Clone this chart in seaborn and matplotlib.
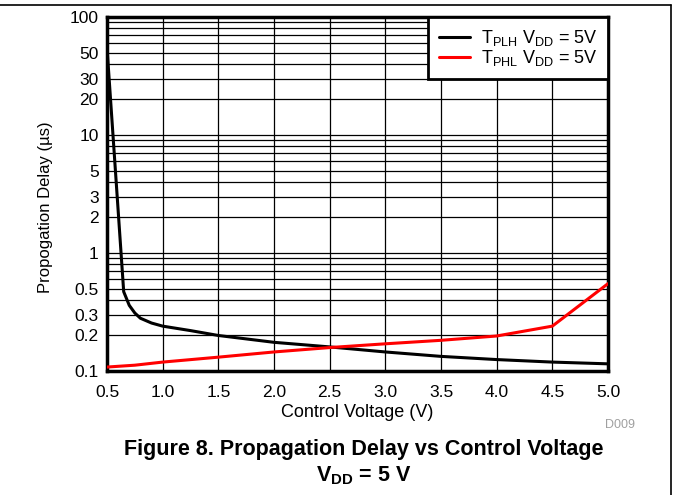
import numpy as np
import pandas as pd
import matplotlib
matplotlib.use("Agg")
import matplotlib.pyplot as plt
from matplotlib.ticker import FixedLocator, FixedFormatter, LogLocator, NullFormatter
from matplotlib.lines import Line2D
import seaborn as sns

# values
plh_v = [0.5, 0.65, 0.7, 0.75, 0.8, 0.9, 1.0, 1.25, 1.5, 2.0, 2.5, 3.0, 3.5, 4.0, 4.5, 5.0]
plh_t = [55, 0.47, 0.36, 0.31, 0.28, 0.255, 0.24, 0.22, 0.20, 0.175, 0.16, 0.145, 0.133, 0.125, 0.119, 0.115]
phl_v = [0.5, 0.75, 1.0, 1.5, 2.0, 2.5, 3.0, 3.5, 4.0, 4.5, 5.0]
phl_t = [0.108, 0.112, 0.119, 0.131, 0.145, 0.158, 0.17, 0.182, 0.198, 0.24, 0.55]

y_ticks = [0.1, 0.2, 0.3, 0.5, 1, 2, 3, 5, 10, 20, 30, 50, 100]
y_labels = ["0.1", "0.2", "0.3", "0.5", "1", "2", "3", "5", "10", "20", "30", "50", "100"]
x_ticks = [0.5, 1.0, 1.5, 2.0, 2.5, 3.0, 3.5, 4.0, 4.5, 5.0]

sns.set_style("white")
plt.rcParams["font.family"] = ["Liberation Sans", "DejaVu Sans"]
plt.rcParams["mathtext.fontset"] = "custom"
plt.rcParams["mathtext.rm"] = "Liberation Sans"
plt.rcParams["mathtext.bf"] = "Liberation Sans:bold"
plt.rcParams["text.color"] = "black"
plt.rcParams["axes.labelcolor"] = "black"

fig = plt.figure(figsize=(6.74, 4.95), dpi=100)
ax = fig.add_axes([107 / 674, 1 - 371 / 495, 501 / 674, 354 / 495])

df1 = pd.DataFrame({"v": plh_v, "t": plh_t})
df2 = pd.DataFrame({"v": phl_v, "t": phl_t})
sns.lineplot(data=df1, x="v", y="t", ax=ax, color="black", lw=2.2, zorder=3)
sns.lineplot(data=df2, x="v", y="t", ax=ax, color="#ff0000", lw=2.2, zorder=3)

ax.set_yscale("log")
ax.set_xlim(0.5, 5.0)
ax.set_ylim(0.1, 100)
ax.xaxis.set_major_locator(FixedLocator(x_ticks))
ax.set_xticklabels([f"{v:.1f}" for v in x_ticks])
ax.yaxis.set_major_locator(FixedLocator(y_ticks))
ax.yaxis.set_major_formatter(FixedFormatter(y_labels))
ax.yaxis.set_minor_locator(LogLocator(base=10, subs=np.arange(2, 10)))
ax.yaxis.set_minor_formatter(NullFormatter())
ax.tick_params(axis="both", which="both", length=0, labelsize=12.5, colors="black")
ax.tick_params(axis="x", pad=10)
ax.tick_params(axis="y", pad=6)
ax.grid(True, which="both", axis="y", color="black", lw=0.9)
ax.grid(True, which="major", axis="x", color="black", lw=0.9)
for s in ax.spines.values():
    s.set_visible(True)
    s.set_color("black")
    s.set_linewidth(2.5)

ax.set_xlabel("Control Voltage (V)", fontsize=13, labelpad=3)
ax.set_ylabel("Propogation Delay (µs)", fontsize=12)
ax.yaxis.set_label_coords(-0.108, 0.463)

handles = [Line2D([], [], color="black", lw=2.2), Line2D([], [], color="#ff0000", lw=2.2)]
labels = [r"T$_\mathregular{PLH}$ V$_\mathregular{DD}$ = 5V", r"T$_\mathregular{PHL}$ V$_\mathregular{DD}$ = 5V"]
leg = ax.legend(handles, labels, loc="upper right", fontsize=13, frameon=True, fancybox=False,
                framealpha=1, borderaxespad=0, handlelength=1.7, handletextpad=0.6,
                labelspacing=0.0, borderpad=0.6)
leg.get_frame().set_edgecolor("black")
leg.get_frame().set_linewidth(2.0)
leg.set_zorder(5)

fig.text(620 / 674, 1 - 425 / 495, "D009", fontsize=9, color="#a0a0a0", ha="center", va="center")
fig.text(364 / 674, 1 - 450 / 495, "Figure 8. Propagation Delay vs Control Voltage",
         fontsize=15.5, fontweight="bold", ha="center", va="center")
fig.text(364 / 674, 1 - 476 / 495, r"$\mathbf{V_{DD}}$ = 5 V",
         fontsize=15.5, fontweight="bold", ha="center", va="center")

# page frame lines
fig.add_artist(Line2D([0, 671 / 674], [1 - 5 / 495, 1 - 5 / 495], color="black", lw=1.2, transform=fig.transFigure))
fig.add_artist(Line2D([671 / 674, 671 / 674], [0, 1 - 5 / 495], color="black", lw=1.2, transform=fig.transFigure))

fig.savefig("out.png", dpi=100)
